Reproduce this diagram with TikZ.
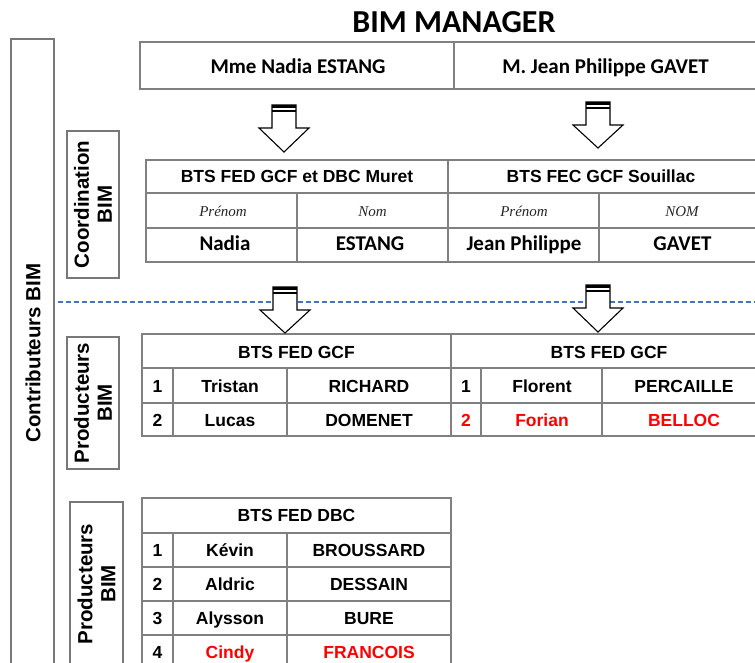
\documentclass[tikz,border=0pt]{standalone}
\usepackage{fontspec}
\setmainfont{Liberation Sans}
\newfontfamily\calfont{Carlito}
\newfontfamily\serfont{Liberation Serif}
\definecolor{gridgray}{RGB}{128,128,128}
\definecolor{boxgray}{RGB}{120,120,120}
\definecolor{dashblue}{RGB}{68,114,196}
\definecolor{redtxt}{RGB}{255,0,0}

% block arrow: name, centre x, top, head base, tip
\newcommand\bimarrow[5]{%
  \coordinate (#1) at (#2,#5);
  \draw[line width=1.1pt, fill=white, line join=miter]
    (#2-12,#3) -- (#2+12,#3) -- (#2+12,#4) -- (#2+25,#4) -- (#1)
    -- (#2-25,#4) -- (#2-12,#4) -- cycle;
  \fill (#2-12,#3) rectangle (#2+12,#3+2.6);
  \fill (#2-12,#3+4.6) rectangle (#2+12,#3+7.2);
}

\begin{document}
\begin{tikzpicture}[x=1pt,y=-1pt,
  grid/.style={draw=gridgray, line width=1.4pt},
  vbox/.style={draw=boxgray, line width=1.6pt},
  title/.style={font=\calfont\bfseries\fontsize{32}{36}\selectfont, anchor=base},
  cal/.style={font=\calfont\bfseries\fontsize{21}{25}\selectfont, anchor=base},
  hdr/.style={font=\bfseries\fontsize{17.5}{20}\selectfont, anchor=base},
  cell/.style={font=\bfseries\fontsize{17.5}{20}\selectfont, anchor=base},
  ital/.style={font=\serfont\itshape\fontsize{15}{18}\selectfont, anchor=base, text=black!85},
  vlabel/.style={font=\bfseries\fontsize{20.5}{23}\selectfont, rotate=90, align=center, inner sep=0pt},
  red/.style={text=redtxt}]
\useasboundingbox (0,0) rectangle (755,663);
\clip (0,0) rectangle (755,663);

% title
\node[title] (title) at (454,33) {BIM MANAGER};

% outer contributors frame
\draw[vbox] (11,670) -- (11,39) -- (54,39) -- (54,670);
\node[vlabel] (contrib) at (33,353) {Contributeurs BIM};

% dashed separation line
\draw[dashblue, line width=1.1pt, dash pattern=on 5pt off 3pt] (58,302) -- (760,302);

% managers row
\draw[grid] (140,42) rectangle (757,89);
\draw[grid] (454,42) -- (454,89);
\node[cal] (mgrA) at (298,73.5) {Mme Nadia ESTANG};
\node[cal] (mgrB) at (605.5,73.5) {M. Jean Philippe GAVET};

% coordination label
\draw[vbox] (67,131) rectangle (119,278);
\node[vlabel] (coordlbl) at (93,204.5) {Coordination\\BIM};

% coordination table
\draw[grid] (146,160) rectangle (766,262);
\draw[grid] (146,193) -- (766,193);
\draw[grid] (146,228) -- (766,228);
\draw[grid] (448,160) -- (448,262);
\draw[grid] (297,193) -- (297,262);
\draw[grid] (599,193) -- (599,262);
\node[hdr] (coA) at (297,183) {BTS FED GCF et DBC Muret};
\node[hdr] (coB) at (601,183) {BTS FEC GCF Souillac};
\node[ital] (coApre) at (223,217) {Prénom};
\node[ital] (coAnom) at (372.5,217) {Nom};
\node[ital] (coBpre) at (524,217) {Prénom};
\node[ital] (coBnom) at (682,217) {NOM};
\node[cal] (coAfirst) at (225,251) {Nadia};
\node[cal] (coAlast) at (370,251) {ESTANG};
\node[cal] (coBfirst) at (524,251) {Jean Philippe};
\node[cal] (coBlast) at (682.5,251) {GAVET};

% producers label 1
\draw[vbox] (67,337) rectangle (119,469);
\node[vlabel] (prodlblA) at (93,403) {Producteurs\\BIM};

% producers table GCF
\draw[grid] (142,334) rectangle (766,436);
\draw[grid] (142,368) -- (766,368);
\draw[grid] (142,403) -- (766,403);
\draw[grid] (451,334) -- (451,436);
\foreach \cx in {173,287,481,602} \draw[grid] (\cx,368) -- (\cx,436);
\node[hdr] (gcfA) at (296.5,358.5) {BTS FED GCF};
\node[hdr] (gcfB) at (609,358.5) {BTS FED GCF};
\node[cell] (gA1n) at (157.5,392.5) {1};
\node[cell] (gA1f) at (230,392.5) {Tristan};
\node[cell] (gA1l) at (369,392.5) {RICHARD};
\node[cell] (gA2n) at (157.5,426.5) {2};
\node[cell] (gA2f) at (230,426.5) {Lucas};
\node[cell] (gA2l) at (369,426.5) {DOMENET};
\node[cell] (gB1n) at (466,392.5) {1};
\node[cell] (gB1f) at (542,392.5) {Florent};
\node[cell] (gB1l) at (684,392.5) {PERCAILLE};
\node[cell, red] (gB2n) at (466,426.5) {2};
\node[cell, red] (gB2f) at (542,426.5) {Forian};
\node[cell, red] (gB2l) at (684,426.5) {BELLOC};

% producers label 2
\draw[vbox] (70,670) -- (70,502) -- (123,502) -- (123,670);
\node[vlabel] (prodlblB) at (96.5,584) {Producteurs\\BIM};

% producers table DBC
\draw[grid] (142,498) rectangle (451,669);
\foreach \ry in {533,567,601,635} \draw[grid] (142,\ry) -- (451,\ry);
\foreach \cx in {173,287} \draw[grid] (\cx,533) -- (\cx,669);
\node[hdr] (dbc) at (296.5,521.5) {BTS FED DBC};
\node[cell] (d1n) at (157.5,556) {1};
\node[cell] (d1f) at (230,556) {Kévin};
\node[cell] (d1l) at (369,556) {BROUSSARD};
\node[cell] (d2n) at (157.5,590) {2};
\node[cell] (d2f) at (230,590) {Aldric};
\node[cell] (d2l) at (369,590) {DESSAIN};
\node[cell] (d3n) at (157.5,624) {3};
\node[cell] (d3f) at (230,624) {Alysson};
\node[cell] (d3l) at (369,624) {BURE};
\node[cell] (d4n) at (157.5,658) {4};
\node[cell, red] (d4f) at (230,658) {Cindy};
\node[cell, red] (d4l) at (369,658) {FRANCOIS};

% block arrows between levels
\bimarrow{arrA}{284}{105}{128}{152}
\bimarrow{arrB}{598}{102}{125}{148}
\bimarrow{arrC}{285}{287}{310}{333}
\bimarrow{arrD}{598}{285}{308}{332}
\end{tikzpicture}
\end{document}
